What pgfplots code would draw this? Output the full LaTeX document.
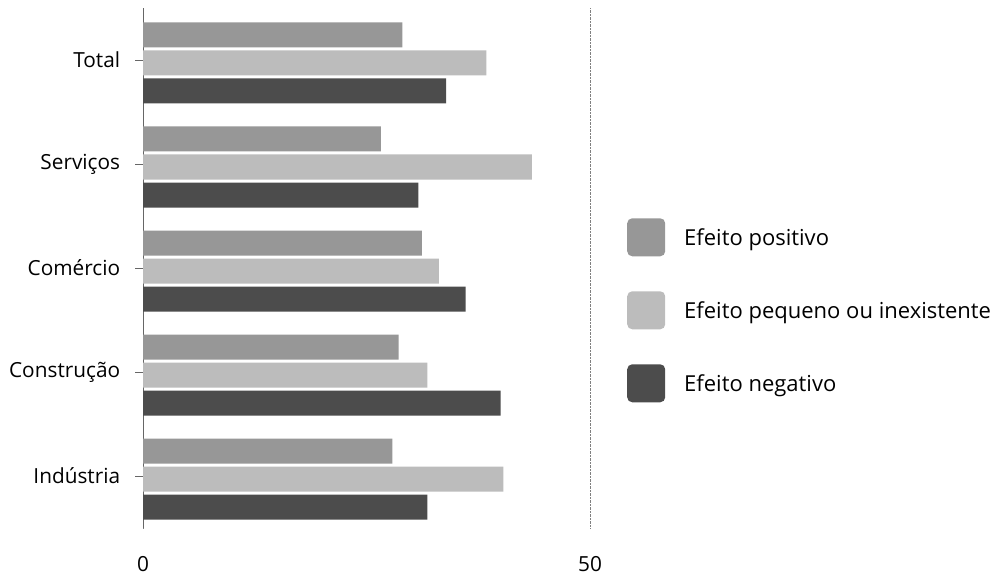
\documentclass[border=0pt]{standalone}
\usepackage{fontspec}
\setmainfont{Open Sans}
\usepackage{pgfplots}
\pgfplotsset{compat=1.18}
\definecolor{cpos}{HTML}{979797}
\definecolor{csmall}{HTML}{BCBCBC}
\definecolor{cneg}{HTML}{4C4C4C}
\begin{document}
\fontsize{20}{24}\selectfont
\begin{tikzpicture}[x=1pt,y=1pt]
\useasboundingbox (0,0) rectangle (992,581);
\begin{axis}[
  at={(143pt,53pt)}, anchor=south west,
  scale only axis, width=447pt, height=520pt,
  xbar, bar width=25pt,
  xmin=0, xmax=50, ymin=-0.5, ymax=4.5,
  axis lines*=left,
  x axis line style={draw=none},
  y axis line style={gray!80!black, line width=0.6pt},
  ytick={0,1,2,3,4},
  yticklabels={Indústria,Construção,Comércio,Serviços,Total},
  xtick={0,50},
  xtick style={draw=none},
  ytick style={gray!80!black, line width=0.6pt},
  tick align=outside,
  major tick length=8pt,
  tick label style={font=\fontsize{20.8}{25}\selectfont},
  yticklabel style={xshift=-8pt},
  xticklabel style={yshift=-14pt},
  /pgf/number format/assume math mode=true,
  xmajorgrids=true,
  grid style={gray, densely dotted, line width=0.6pt},
  legend cell align=left,
  legend style={at={(1.0828,0.596)}, anchor=north west, draw=none, fill=none,
    inner sep=0pt, row sep=35pt, column sep=19pt, nodes={inner sep=0pt},
    font=\fontsize{22}{26}\selectfont},
  legend image code/.code={\fill[#1, draw=none, rounded corners=5pt] (0pt,-18pt) rectangle (38pt,20pt);},
]
\addplot[fill=cpos, draw=none, bar shift=25pt] coordinates {(27.9,0) (28.6,1) (31.2,2) (26.6,3) (29.0,4)};
\addlegendentry{Efeito positivo}
\addplot[fill=csmall, draw=none, bar shift=-3pt] coordinates {(40.3,0) (31.8,1) (33.1,2) (43.5,3) (38.4,4)};
\addlegendentry{Efeito pequeno ou inexistente}
\addplot[fill=cneg, draw=none, bar shift=-31pt] coordinates {(31.8,0) (40.0,1) (36.1,2) (30.8,3) (33.9,4)};
\addlegendentry{Efeito negativo}
\end{axis}
\end{tikzpicture}
\end{document}
